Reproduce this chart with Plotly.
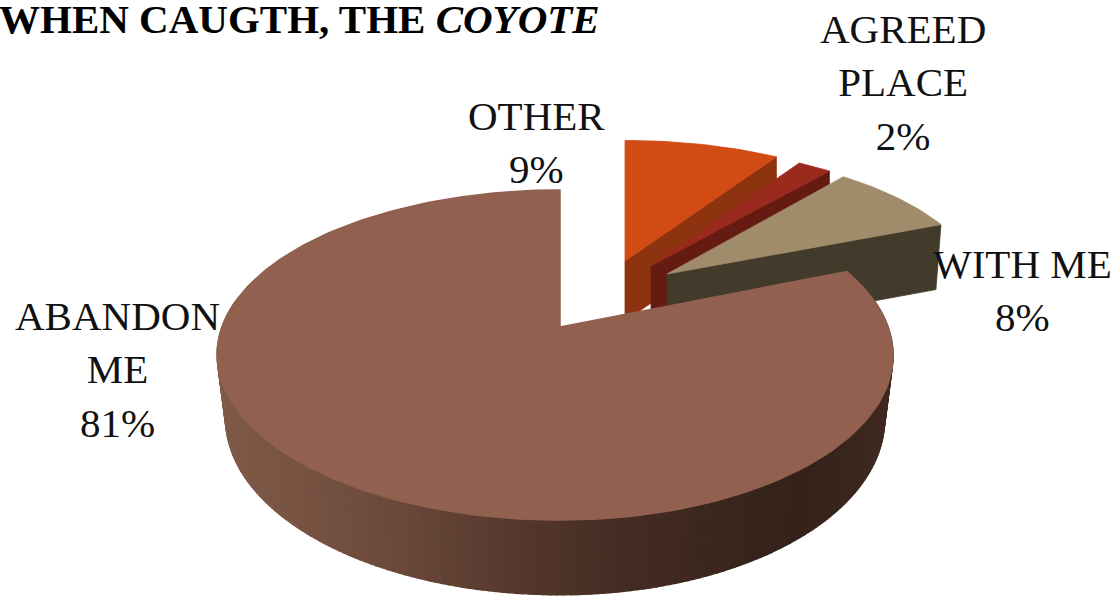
import numpy as np
import plotly.graph_objects as go

categories = ["OTHER", "AGREED PLACE", "WITH ME", "ABANDON ME"]
shares = [9, 2, 8, 81]
top_colors = ["#D24A14", "#9A2A1E", "#A08C6A", "#91604F"]
wall_colors = ["#8E330F", "#661B12", "#423A2B", None]

# where each exploded wedge's tip sits, and the wedge size relative to the disc
tips = [(625, 261), (651, 266), (667, 274), (560, 327)]
scales = [(0.97, 0.88), (0.95, 0.87), (0.94, 0.89), (1.0, 1.0)]
wall_heights = [60, 55, 65, 0]

# perspective disc
K, A, B, C = 333.0, -104.8, 327.0, 0.1697


def rim(theta_deg, sx=1.0, sy=1.0):
    t = np.radians(theta_deg)
    u, v = np.sin(t), np.cos(t)
    d = 1 + C * v
    return K * sx * u / d, sy * ((A * v + B) / d - B)


def add_poly(fig, xs, ys, color, width=0.8):
    fig.add_trace(go.Scatter(
        x=list(xs) + [xs[0]], y=list(ys) + [ys[0]], mode="lines", fill="toself",
        fillcolor=color, line=dict(color=color, width=width),
        hoverinfo="skip", showlegend=False))


def wall_shade(x):
    stops_x = [217, 300, 400, 500, 600, 720, 800, 893]
    r = np.interp(x, stops_x, [128, 120, 106, 88, 72, 58, 52, 64])
    g = np.interp(x, stops_x, [90, 83, 72, 58, 46, 38, 34, 42])
    b = np.interp(x, stops_x, [72, 66, 58, 46, 36, 30, 27, 33])
    return f"rgb({r:.0f},{g:.0f},{b:.0f})"


fig = go.Figure()

angles = np.concatenate([[0], np.cumsum(shares)]) * 3.6

# exploded wedges, back to front
for i in range(3):
    tx, ty = tips[i]
    sx, sy = scales[i]
    th = np.linspace(angles[i], angles[i + 1], 30)
    ax, ay = rim(th, sx, sy)
    ax, ay = ax + tx, ay + ty
    h = wall_heights[i]
    # cut wall facing the viewer
    add_poly(fig, [tx, ax[-1], ax[-1] - 5 * (i == 2), tx], [ty, ay[-1], ay[-1] + h, ty + h], wall_colors[i])
    add_poly(fig, np.r_[tx, ax], np.r_[ty, ay], top_colors[i])

# main slice: outer wall with a gradient, then the top
tx, ty = tips[3]
th = np.arange(angles[3], 280.01, 1.0)
for a0, a1 in zip(th[:-1], th[1:]):
    x0, y0 = rim(a0)
    x1, y1 = rim(a1)
    h0 = 62 / (1 + C * np.cos(np.radians(a0)))
    h1 = 62 / (1 + C * np.cos(np.radians(a1)))
    off0 = 5 * abs(np.sin(np.radians(a0)))
    off1 = 5 * abs(np.sin(np.radians(a1)))
    xs = [tx - off0 + x0, tx - off1 + x1, tx - off1 + x1 * 0.975, tx - off0 + x0 * 0.975]
    ys = [ty + y0, ty + y1, ty + y1 + h1, ty + y0 + h0]
    add_poly(fig, xs, ys, wall_shade(np.mean(xs)), width=1.5)

th = np.linspace(angles[3], angles[4], 200)
ax, ay = rim(th)
add_poly(fig, np.r_[tx, ax + tx - 5 * np.abs(np.sin(np.radians(th)))], np.r_[ty, ay + ty], top_colors[3], width=1.5)

SERIF = "Liberation Serif"
label_pos = {"OTHER": (536, 142), "AGREED PLACE": (903, 82), "WITH ME": (1022, 290), "ABANDON ME": (117, 369)}
label_text = {
    "OTHER": "OTHER", "AGREED PLACE": "AGREED<br>PLACE", "WITH ME": "WITH ME", "ABANDON ME": "ABANDON<br>ME",
}
for name, share in zip(categories, shares):
    x, y = label_pos[name]
    fig.add_annotation(x=x, y=y, text=f"{label_text[name]}<br>{share}%", showarrow=False,
                       font=dict(family=SERIF, size=41, color="#111111"), align="center")

fig.add_annotation(xref="paper", yref="paper", x=0, y=1, xanchor="left", yanchor="top", xshift=-3, yshift=6,
                   text="<b>WHEN CAUGTH, THE <i>COYOTE</i></b>", showarrow=False,
                   font=dict(family=SERIF, size=41, color="#000000"), align="left")

fig.update_layout(
    width=1119, height=597, margin=dict(l=0, r=0, t=0, b=0), paper_bgcolor="white", plot_bgcolor="white",
    xaxis=dict(range=[0, 1119], visible=False, fixedrange=True),
    yaxis=dict(range=[597, 0], visible=False, fixedrange=True),
)
fig.write_html("out.html", config={"displayModeBar": False},
               post_script="document.body.style.margin='0';document.body.style.overflow='hidden';")
